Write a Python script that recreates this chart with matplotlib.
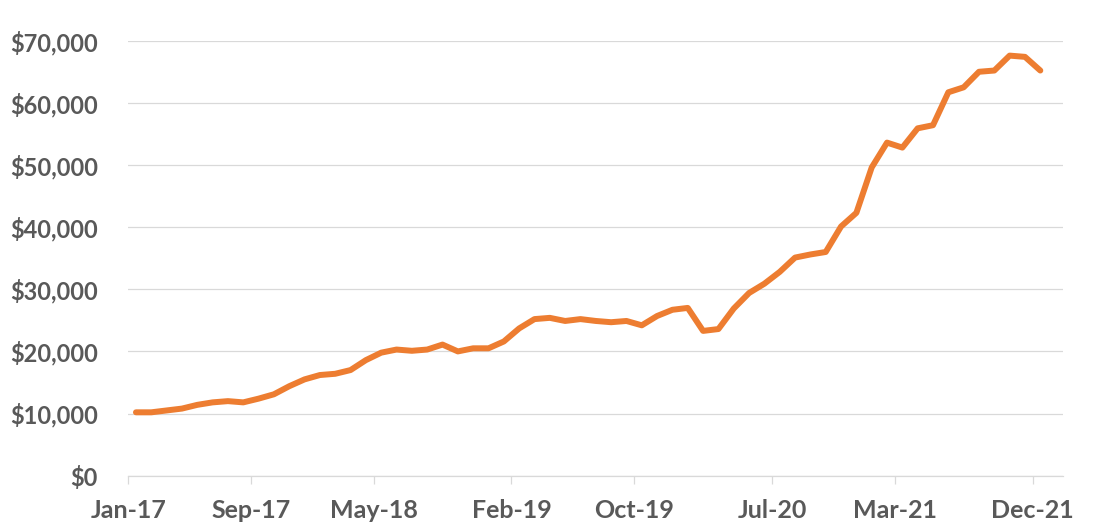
import matplotlib
matplotlib.use("Agg")
import matplotlib.pyplot as plt
from matplotlib.ticker import FuncFormatter
import numpy as np

# Monthly values, Jan-17 .. Dec-21
values = [
    10200, 10200, 10500, 10800, 11400, 11800, 12000, 11800, 12400, 13100,
    14400, 15500, 16200, 16400, 17000, 18600, 19800, 20300, 20100, 20300,
    21100, 20000, 20500, 20500, 21600, 23700, 25200, 25400, 24900, 25200,
    24900, 24700, 24900, 24200, 25700, 26700, 27000, 23300, 23600, 26900,
    29400, 30900, 32800, 35100, 35600, 36000, 40100, 42300, 49600, 53600,
    52800, 55900, 56400, 61700, 62500, 65000, 65200, 67600, 67400, 65200,
]
tick_months = [0, 8, 16, 25, 33, 42, 50, 59]
tick_labels = ["Jan-17", "Sep-17", "May-18", "Feb-19", "Oct-19", "Jul-20", "Mar-21", "Dec-21"]
y_ticks = [0, 10000, 20000, 30000, 40000, 50000, 60000, 70000]

plt.rcParams['font.family'] = ['Lato', 'DejaVu Sans']

fig = plt.figure(figsize=(10.94, 5.28), dpi=100)
ax = fig.add_axes([128.3/1094, 1-475.7/528, (1063.3-128.3)/1094, (475.7-40.7)/528])

x = np.arange(len(values)) + 0.5
ax.plot(x, values, color="#ED7D31", linewidth=4.3, solid_capstyle="round", solid_joinstyle="round", zorder=3)

ax.set_xlim(0, len(values) + 1)
ax.set_ylim(0, 70000)
ax.set_yticks(y_ticks)
ax.yaxis.set_major_formatter(FuncFormatter(lambda v, p: f"${v:,.0f}"))
ax.set_xticks(tick_months)
ax.set_xticklabels(tick_labels)

ax.grid(axis="y", color="#D9D9D9", linewidth=0.9)
ax.set_axisbelow(True)
for s in ["top", "right", "left"]:
    ax.spines[s].set_visible(False)
ax.spines["bottom"].set_color("#D9D9D9")
ax.spines["bottom"].set_linewidth(0.9)

ax.tick_params(axis="y", length=0, pad=22, labelsize=17, labelcolor="#595959")
ax.tick_params(axis="x", length=5.5, width=0.9, color="#D9D9D9", pad=11, labelsize=18, labelcolor="#595959")
for lab in ax.get_xticklabels() + ax.get_yticklabels():
    lab.set_fontweight("bold")

fig.savefig("out.png", dpi=100)
